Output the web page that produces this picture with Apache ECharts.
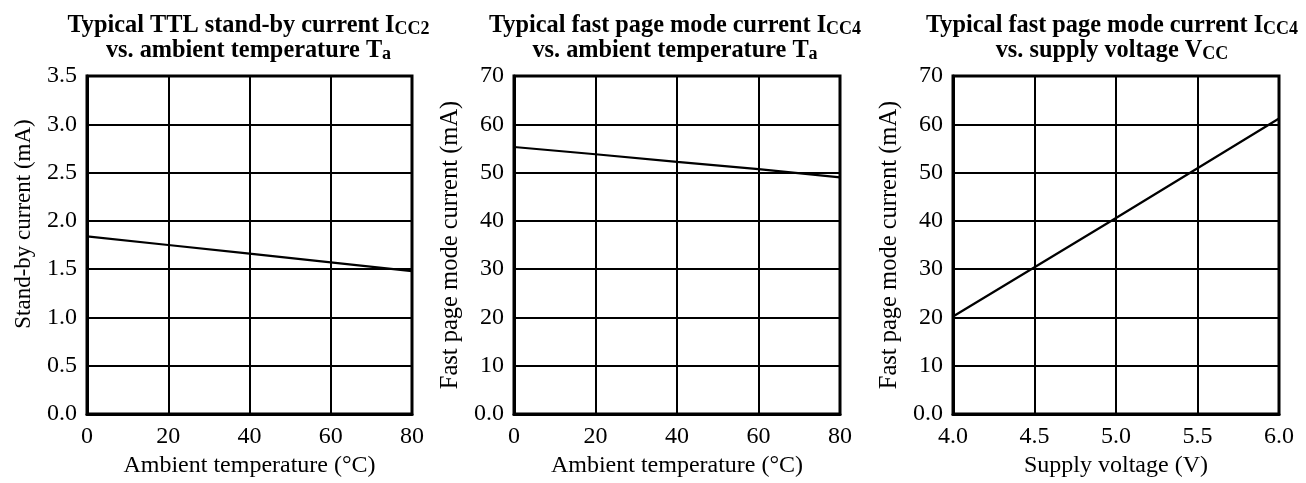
<!DOCTYPE html>
<html>
<head>
<meta charset="utf-8">
<script src="https://cdn.jsdelivr.net/npm/echarts@6/dist/echarts.min.js"></script>
<style>
html,body{margin:0;padding:0;background:#fff;}
#c{width:1306px;height:483px;}
</style>
</head>
<body>
<div id="c"></div>
<script>
// ---- data ----
const tempX = [0, 20, 40, 60, 80];
const standbyCurrent = [1.84, 1.75, 1.66, 1.57, 1.48];
const fastPageCurrentVsT = [55.3, 53.8, 52.2, 50.7, 49.0];
const voltX = [4.0, 4.5, 5.0, 5.5, 6.0];
const fastPageCurrentVsV = [20.2, 30.4, 40.6, 50.9, 61.2];

const yTicks1 = ['0.0', '0.5', '1.0', '1.5', '2.0', '2.5', '3.0', '3.5'];
const yTicks2 = ['0.0', '10', '20', '30', '40', '50', '60', '70'];
const xTicksT = ['0', '20', '40', '60', '80'];
const xTicksV = ['4.0', '4.5', '5.0', '5.5', '6.0'];

const titles = [
  ['Typical TTL stand-by current I', 'CC2', 'vs. ambient temperature T', 'a'],
  ['Typical fast page mode current I', 'CC4', 'vs. ambient temperature T', 'a'],
  ['Typical fast page mode current I', 'CC4', 'vs. supply voltage V', 'CC']
];
const yNames = ['Stand-by current (mA)', 'Fast page mode current (mA)', 'Fast page mode current (mA)'];
const xNames = ['Ambient temperature (\u00B0C)', 'Ambient temperature (\u00B0C)', 'Supply voltage (V)'];

// ---- layout ----
const FONT = '"Liberation Serif", "Times New Roman", serif';
const grids = [
  {left: 87, width: 325},
  {left: 514, width: 326},
  {left: 953, width: 326}
];
const gTop = 76, gBottom = 414;
const titleShift = [-6, -7, -9];
const yNameFont = [23, 24.5, 24.5];
const yNameGap = [52, 51, 51];
const yNamePad = [[0, 0, 0, 42], 0, 0];

const chart = echarts.init(document.getElementById('c'), null, {renderer: 'canvas'});

const titleOpts = titles.map((t, i) => ({
  text: '{a|' + t[0] + '}{s|' + t[1] + '}\n{a|' + t[2] + '}{s|' + t[3] + '}',
  left: grids[i].left + grids[i].width / 2 + titleShift[i],
  top: 8,
  textAlign: 'center',
  textStyle: {
    fontFamily: FONT,
    rich: {
      a: {fontFamily: FONT, fontWeight: 'bold', fontSize: 24.3, lineHeight: 25, color: '#000'},
      s: {fontFamily: FONT, fontWeight: 'bold', fontSize: 18, lineHeight: 15, verticalAlign: 'bottom', color: '#000'}
    }
  }
}));

const gridOpts = grids.map(g => ({
  left: g.left, width: g.width, top: gTop, height: gBottom - gTop,
  show: true, borderColor: '#000', borderWidth: 3, backgroundColor: 'transparent'
}));

const tickStyle = {fontFamily: FONT, fontSize: 24, color: '#000'};
const xNameStyle = {fontFamily: FONT, fontSize: 24, color: '#000'};

function xAxis(i, min, max, interval, ticks) {
  return {
    type: 'value', gridIndex: i, min: min, max: max, interval: interval,
    name: xNames[i], nameLocation: 'middle', nameGap: 37, nameTextStyle: xNameStyle,
    axisLine: {show: true, lineStyle: {color: '#000', width: 3}},
    axisTick: {show: false},
    axisLabel: Object.assign({margin: 11, formatter: (v) => ticks[Math.round((v - min) / interval)]}, tickStyle),
    splitLine: {show: true, lineStyle: {color: '#000', width: 2}}
  };
}
function yAxis(i, min, max, interval, ticks) {
  return {
    type: 'value', gridIndex: i, min: min, max: max, interval: interval,
    name: yNames[i], nameLocation: 'middle', nameGap: yNameGap[i],
    nameTextStyle: {fontFamily: FONT, fontSize: yNameFont[i], color: '#000', padding: yNamePad[i]},
    axisLine: {show: true, lineStyle: {color: '#000', width: 3}},
    axisTick: {show: false},
    axisLabel: Object.assign({margin: 10, formatter: (v) => ticks[Math.round((v - min) / interval)]}, tickStyle),
    splitLine: {show: true, lineStyle: {color: '#000', width: 2}}
  };
}

const option = {
  backgroundColor: '#fff',
  animation: false,
  title: titleOpts,
  grid: gridOpts,
  xAxis: [
    xAxis(0, 0, 80, 20, xTicksT),
    xAxis(1, 0, 80, 20, xTicksT),
    xAxis(2, 4.0, 6.0, 0.5, xTicksV)
  ],
  yAxis: [
    yAxis(0, 0, 3.5, 0.5, yTicks1),
    yAxis(1, 0, 70, 10, yTicks2),
    yAxis(2, 0, 70, 10, yTicks2)
  ],
  series: [
    {type: 'line', xAxisIndex: 0, yAxisIndex: 0, data: tempX.map((x, k) => [x, standbyCurrent[k]]),
     showSymbol: false, lineStyle: {color: '#000', width: 2.2}},
    {type: 'line', xAxisIndex: 1, yAxisIndex: 1, data: tempX.map((x, k) => [x, fastPageCurrentVsT[k]]),
     showSymbol: false, lineStyle: {color: '#000', width: 2.2}},
    {type: 'line', xAxisIndex: 2, yAxisIndex: 2, data: voltX.map((x, k) => [x, fastPageCurrentVsV[k]]),
     showSymbol: false, lineStyle: {color: '#000', width: 2.2}}
  ]
};
chart.setOption(option);
</script>
</body>
</html>
